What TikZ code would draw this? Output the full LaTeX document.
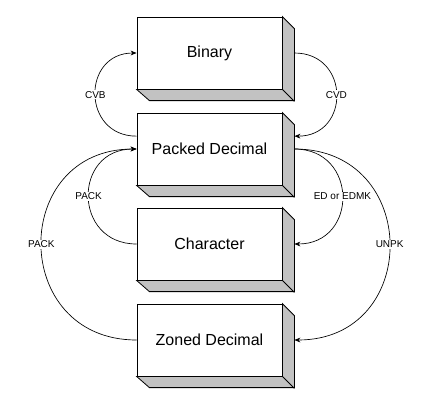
\documentclass[tikz,border=0pt]{standalone}
\usepackage{fontspec}
\setmainfont{Liberation Sans}
\usetikzlibrary{arrows.meta}

\begin{document}
\begin{tikzpicture}[x=0.75pt, y=-0.75pt,
    box/.style={draw, fill=white, line width=0.6pt, minimum width=108.75pt, minimum height=54pt, inner sep=0pt, font=\fontsize{12}{14}\selectfont},
    sideface/.style={draw, fill=black!24, line width=0.6pt},
    conv/.style={line width=0.5pt, -{Stealth[length=4.5pt, width=3.6pt]}},
    lbl/.style={fill=white, inner sep=1pt, font=\fontsize{7.5}{9}\selectfont}]
  \useasboundingbox (0,0) rectangle (445,403);

  % boxes with their gray sides
  \foreach \name / \y / \txt in {
    bin/53/Binary,
    pd/149/Packed Decimal,
    chr/244/Character,
    zd/340/Zoned Decimal
  }{
    \node[box] (\name) at (209.5,\y) {\txt};
    \draw[sideface] (\name.north east) -- ++(12,12) -- ++(0,72) -- ++(-145,0) -- (\name.south west) -- (\name.south east) -- cycle;
    \draw[line width=0.6pt] (\name.south east) -- ++(12,12);
  }

  % left side conversions
  \draw[conv] (pd.170) .. controls +(-55,0) and +(-55,0) .. (bin.west) node[lbl, midway] {CVB};
  \draw[conv] (chr.west) .. controls +(-64,0) and +(-64,0) .. (pd.west) node[lbl, midway] {PACK};
  \draw[conv] (zd.west) .. controls +(-127,0) and +(-127,0) .. (pd.west) node[lbl, midway] {PACK};

  % right side conversions
  \draw[conv] ([xshift=9pt]bin.east) .. controls +(56,0) and +(56,0) .. ([xshift=9pt]pd.10) node[lbl, midway] {CVD};
  \draw[conv] ([xshift=9pt]pd.east) .. controls +(64,0) and +(64,0) .. ([xshift=9pt]chr.east) node[lbl, midway] {ED or EDMK};
  \draw[conv] ([xshift=9pt]pd.east) .. controls +(127,0) and +(127,0) .. ([xshift=9pt]zd.east) node[lbl, midway] {UNPK};
\end{tikzpicture}
\end{document}
